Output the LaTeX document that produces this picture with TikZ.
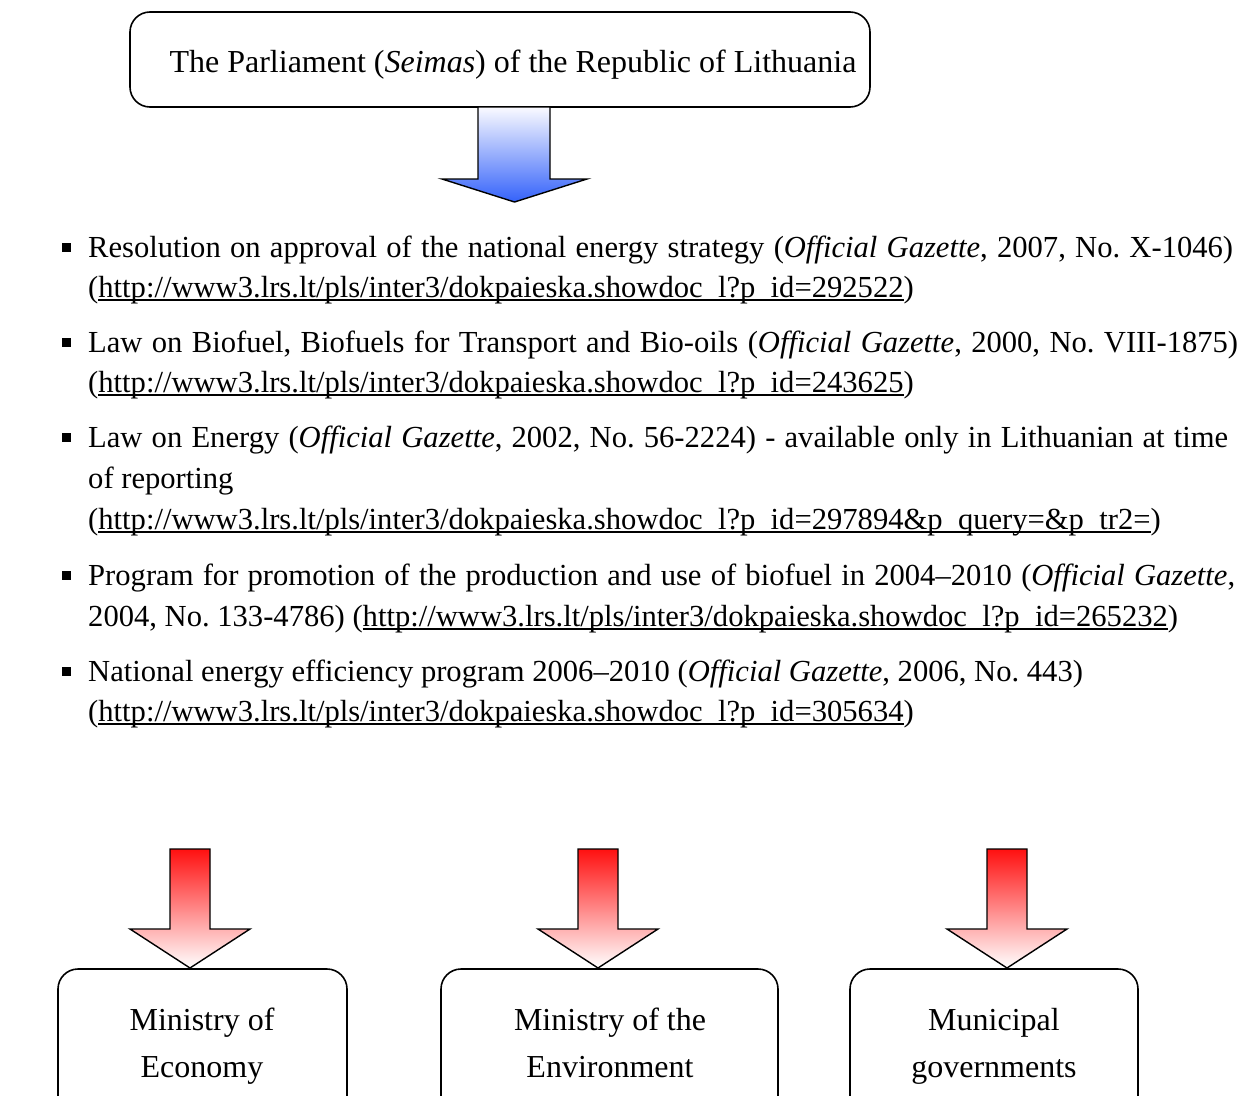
\documentclass[tikz,border=0pt]{standalone}
\usepackage{fontspec}
\setmainfont{Liberation Serif}
\frenchspacing
\definecolor{arrowblue}{RGB}{52,98,250}
\definecolor{arrowbluetop}{RGB}{250,250,255}
\definecolor{arrowred}{RGB}{255,16,16}
\newcommand\myul[1]{\setbox0\hbox{#1}\rlap{\rule[-3.5pt]{\wd0}{1.4pt}}\box0}
\newcommand\justline[2]{\makebox[#1][s]{#2}}
\begin{document}
\begin{tikzpicture}[x=1pt,y=-1pt,
  box/.style={draw, line width=1.6pt, rounded corners=20pt, inner sep=0pt},
  txt/.style={inner sep=0pt, anchor=base west, font=\fontsize{30.6}{38}\selectfont},
  ctxt/.style={inner sep=0pt, anchor=base, font=\fontsize{32}{40}\selectfont},
  bul/.style={fill=black, inner sep=0pt, minimum size=9pt},
  bluearrow/.style={draw, line width=1.4pt, top color=arrowbluetop, bottom color=arrowblue},
  redarrow/.style={draw, line width=1.4pt, top color=arrowred, middle color=arrowred!42!white, bottom color=white}]
\path[use as bounding box, clip] (0,0) rectangle (1258,1095);
\fill[white] (0,0) rectangle (1258,1095);

% top box
\node[box, minimum width=740pt, minimum height=95pt] (parl) at (500,59.5) {};
\node[ctxt] (parltxt) at (513,72) {The Parliament (\emph{Seimas}) of the Republic of Lithuania};

% blue arrow
\draw[bluearrow] (478,107) -- (550,107) -- (550,179) -- (587,179) -- (514.5,202) -- (442,179) -- (478,179) -- cycle;

% list
\node[bul] (b1) at (66,247) {};
\node[txt] (i1a) at (88,257) {\justline{1145pt}{Resolution on approval of the national energy strategy (\emph{Official Gazette}, 2007, No. X-1046)}};
\node[txt] (i1b) at (88,297) {(\myul{http://www3.lrs.lt/pls/inter3/dokpaieska.showdoc\_l?p\_id=292522})};

\node[bul] (b2) at (66,342) {};
\node[txt] (i2a) at (88,352) {\justline{1150pt}{Law on Biofuel, Biofuels for Transport and Bio-oils (\emph{Official Gazette}, 2000, No. VIII-1875)}};
\node[txt] (i2b) at (88,392) {(\myul{http://www3.lrs.lt/pls/inter3/dokpaieska.showdoc\_l?p\_id=243625})};

\node[bul] (b3) at (66,437) {};
\node[txt] (i3a) at (88,447) {\justline{1140pt}{Law on Energy (\emph{Official Gazette}, 2002, No. 56-2224) - available only in Lithuanian at time}};
\node[txt] (i3b) at (88,488) {of reporting};
\node[txt] (i3c) at (88,529) {(\myul{http://www3.lrs.lt/pls/inter3/dokpaieska.showdoc\_l?p\_id=297894\&p\_query=\&p\_tr2=})};

\node[bul] (b4) at (66,575) {};
\node[txt] (i4a) at (88,585) {\justline{1147pt}{Program for promotion of the production and use of biofuel in 2004–2010 (\emph{Official Gazette},}};
\node[txt] (i4b) at (88,626) {2004, No. 133-4786) (\myul{http://www3.lrs.lt/pls/inter3/dokpaieska.showdoc\_l?p\_id=265232})};

\node[bul] (b5) at (66,671) {};
\node[txt] (i5a) at (88,681) {National energy efficiency program 2006–2010 (\emph{Official Gazette}, 2006, No. 443)};
\node[txt] (i5b) at (88,721) {(\myul{http://www3.lrs.lt/pls/inter3/dokpaieska.showdoc\_l?p\_id=305634})};

% red arrows
\foreach \cx in {190,598,1007}{
  \draw[redarrow] (\cx-20,849) -- (\cx+20,849) -- (\cx+20,929) -- (\cx+60,929) -- (\cx,968) -- (\cx-60,929) -- (\cx-20,929) -- cycle;
}

% bottom boxes
\node[box, minimum width=289pt, minimum height=170pt] (econ) at (202.5,1054) {};
\node[box, minimum width=337pt, minimum height=170pt] (env) at (609.5,1054) {};
\node[box, minimum width=288pt, minimum height=170pt] (mun) at (994,1054) {};

\node[ctxt] (econ1) at (202,1030) {Ministry of};
\node[ctxt] (econ2) at (202,1077) {Economy};
\node[ctxt] (env1) at (610,1030) {Ministry of the};
\node[ctxt] (env2) at (610,1077) {Environment};
\node[ctxt] (mun1) at (994,1030) {Municipal};
\node[ctxt] (mun2) at (994,1077) {governments};
\end{tikzpicture}
\end{document}
